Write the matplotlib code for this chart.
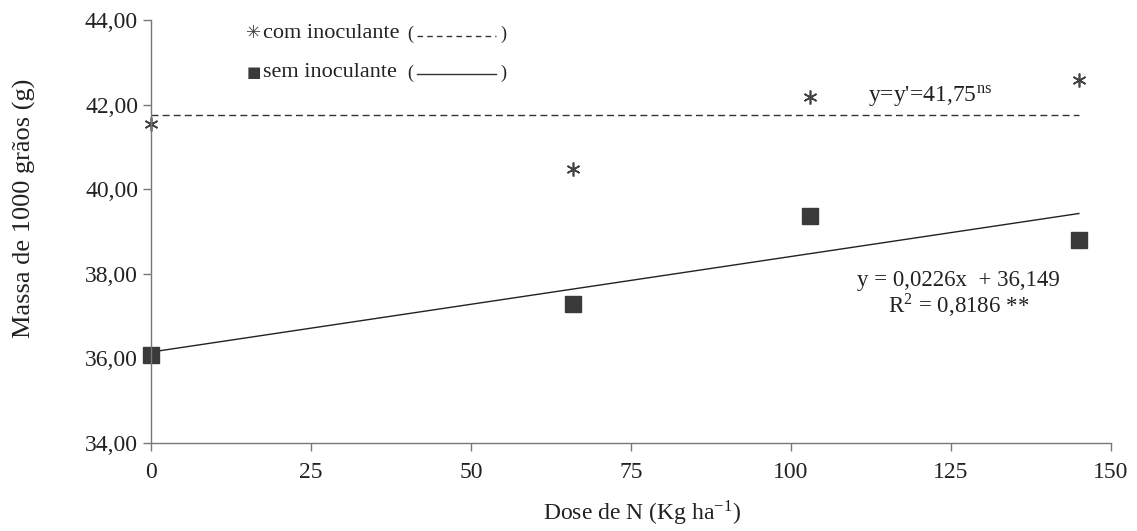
import numpy as np
import matplotlib.pyplot as plt
from matplotlib.lines import Line2D

plt.rcParams['font.family'] = ['Liberation Serif', 'DejaVu Serif']
plt.rcParams['mathtext.fontset'] = 'stix'

dose = [0, 66, 103, 145]
com_inoc = [41.54, 40.48, 42.18, 42.58]
sem_inoc = [36.08, 37.29, 39.37, 38.80]
com_mean = 41.75
slope, intercept = 0.0226, 36.149
yticks = [34, 36, 38, 40, 42, 44]
xticks = [0, 25, 50, 75, 100, 125, 150]

fig = plt.figure(figsize=(11.37, 5.31), dpi=100)
ax = fig.add_axes([0.133, 0.166, 0.844, 0.796])

xfit = np.array([dose[0], dose[-1]])
ax.plot(xfit, [com_mean, com_mean], color='#333333', lw=1.0, ls=(0, (5, 3)))
ax.plot(xfit, slope * xfit + intercept, color='#222222', lw=1.0)
ax.plot(dose, com_inoc, ls='none', marker=(6, 2, 0), ms=10, mec='#444444', mew=1.2, clip_on=False)
ax.plot(dose, sem_inoc, ls='none', marker='s', ms=11, mfc='#3a3a3a', mec='#3a3a3a', clip_on=False)

ax.set_xlim(0, 150)
ax.set_ylim(34, 44)
ax.set_xticks(xticks)
ax.set_yticks(yticks)
ax.set_yticklabels([f'{v:.2f}'.replace('.', ',') for v in yticks])
ax.spines['top'].set_visible(False)
ax.spines['right'].set_visible(False)
for s in ['left', 'bottom']:
    ax.spines[s].set_color('#777777')
    ax.spines[s].set_linewidth(1.0)
ax.tick_params(axis='both', labelsize=17, colors='#777777', labelcolor='#222222', length=6, width=1.0)
ax.tick_params(axis='x', pad=8)

ax.set_ylabel('Massa de 1000 grãos (g)', fontsize=19, color='#222222')
ax.yaxis.set_label_coords(-0.12, 0.555)
ax.set_xlabel('Dose de N (Kg ha$^{\\mathregular{-1}}$)', fontsize=17, color='#222222')
ax.xaxis.set_label_coords(0.512, -0.132)

ax.text(112, 42.18, "y=y'=41,75$^{\\mathregular{ns}}$", fontsize=17, color='#222222', va='center')
ax.text(126.2, 37.83, 'y = 0,0226x  + 36,149', fontsize=16.5, color='#222222', ha='center', va='center')
ax.text(126.2, 37.26, 'R$^{\\mathregular{2}}$ = 0,8186 **', fontsize=16.5, color='#222222', ha='center', va='center')

# legend drawn by hand: marker, label, (line sample)
fig.text(0.223, 0.937, '\u2733', fontsize=13, color='#444444', va='center', ha='center',
         family=['DejaVu Sans'])
fig.text(0.231, 0.937, 'com inoculante', fontsize=16, color='#222222', va='center')
fig.text(0.358, 0.935, '(', fontsize=13, color='#222222', va='center')
fig.add_artist(Line2D([0.367, 0.436], [0.933, 0.933], color='#333333', lw=1.0, ls=(0, (4, 3))))
fig.text(0.440, 0.935, ')', fontsize=13, color='#222222', va='center')
fig.text(0.223, 0.864, '\u25a0', fontsize=11, color='#3a3a3a', va='center', ha='center',
         family=['DejaVu Sans'])
fig.text(0.231, 0.864, 'sem inoculante', fontsize=16, color='#222222', va='center')
fig.text(0.358, 0.862, '(', fontsize=13, color='#222222', va='center')
fig.add_artist(Line2D([0.367, 0.436], [0.860, 0.860], color='#333333', lw=1.0))
fig.text(0.440, 0.862, ')', fontsize=13, color='#222222', va='center')

fig.savefig('out.png', dpi=100)
